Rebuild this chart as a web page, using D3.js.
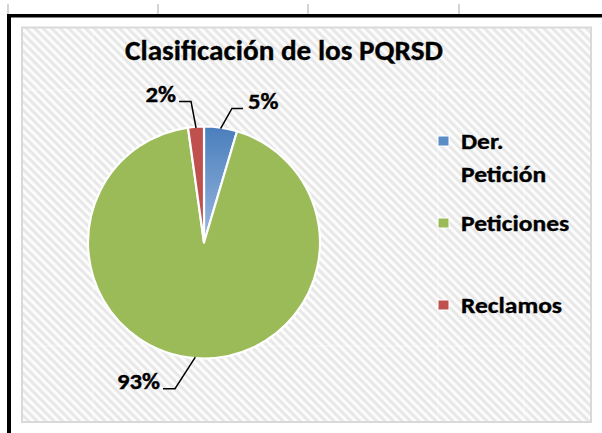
<!DOCTYPE html>
<html><head><meta charset="utf-8">
<script src="https://cdn.jsdelivr.net/npm/d3@7"></script>
<style>
html,body{margin:0;padding:0;background:#fff;}
svg{display:block;}
text{font-family:Carlito, Calibri, Lato, "DejaVu Sans", sans-serif;font-weight:bold;fill:#000;stroke:#000;stroke-width:0.35px;}
</style></head>
<body>
<script>
// ---- data ----
const categories = ["Der. Petición", "Peticiones", "Reclamos"];
const values = [4.6, 93.2, 2.2];
const legendLines = [["Der.", "Petición"], ["Peticiones"], ["Reclamos"]];
const title = "Clasificación de los PQRSD";

// ---- layout ----
const W = 602, H = 433;
const cx = 204, cy = 242.5, R = 116;
const colors = ["#4F81BD", "#9BBB59", "#C0504D"];
// elbow position of each leader line (angle nudge in degrees, radius)
const elbow = [{da: 3.5, r: 137}, {da: 6.9, r: 149}, {da: -1.3, r: 141.6}];

const svg = d3.select("body").append("svg").attr("width", W).attr("height", H);
const defs = svg.append("defs");

const pat = defs.append("pattern").attr("id", "hatch").attr("patternUnits", "userSpaceOnUse")
  .attr("width", 6).attr("height", 6).attr("patternTransform", "rotate(45)");
pat.append("rect").attr("width", 6).attr("height", 6).attr("fill", "#fcfcfc");
pat.append("rect").attr("width", 6).attr("height", 3).attr("fill", "#e8e8e8");

const bg = defs.append("linearGradient").attr("id", "blueGrad").attr("gradientUnits", "userSpaceOnUse")
  .attr("x1", 0).attr("y1", -R).attr("x2", 0).attr("y2", 0);
bg.append("stop").attr("offset", "0%").attr("stop-color", "#4a7ebc");
bg.append("stop").attr("offset", "100%").attr("stop-color", "#9bb9e0");

// spreadsheet gridline stubs
[8, 158, 308, 459].forEach(x => svg.append("line").attr("x1", x).attr("x2", x).attr("y1", 4).attr("y2", 14)
  .attr("stroke", "#d4d4d4").attr("stroke-width", 2));

// chart area
svg.append("rect").attr("x", 22).attr("y", 27.5).attr("width", 569).attr("height", 394.5)
  .attr("fill", "url(#hatch)").attr("stroke", "#d9d9d9").attr("stroke-width", 2);
// faint cell lines showing through
const gl = svg.append("g").attr("stroke", "#ffffff").attr("stroke-opacity", 0.5).attr("stroke-width", 1);
[93, 438, 524].forEach(x => gl.append("line").attr("x1", x).attr("x2", x).attr("y1", 29).attr("y2", 421));
[90, 346].forEach(y => gl.append("line").attr("x1", 23).attr("x2", 590).attr("y1", y).attr("y2", y));

// black sheet borders
svg.append("rect").attr("x", 7).attr("y", 14).attr("width", W - 7).attr("height", 3.5).attr("fill", "#000");
svg.append("rect").attr("x", 7).attr("y", 14).attr("width", 4).attr("height", H - 14).attr("fill", "#000");

// title
svg.append("text").attr("x", 284).attr("y", 59.5).attr("text-anchor", "middle")
  .attr("font-size", 28.5).attr("textLength", 318).attr("lengthAdjust", "spacingAndGlyphs").text(title);

// pie
const total = d3.sum(values);
const pie = d3.pie().sort(null).value(d => d)(values);
const arc = d3.arc().innerRadius(0).outerRadius(R);
const g = svg.append("g").attr("transform", `translate(${cx},${cy})`);
g.selectAll("path").data(pie).join("path")
  .attr("d", arc)
  .attr("fill", (d, i) => i === 0 ? "url(#blueGrad)" : colors[i])
  .attr("stroke", "#fff").attr("stroke-width", 2.2).attr("stroke-linejoin", "round");

const fmt = d3.format(".0%");
const polar = (a, r) => [r * Math.sin(a), -r * Math.cos(a)];
pie.forEach((d, i) => {
  const mid = (d.startAngle + d.endAngle) / 2;
  const p0 = polar(mid, R - 1);
  const e = polar(mid + elbow[i].da * Math.PI / 180, elbow[i].r);
  const right = Math.sin(mid + elbow[i].da * Math.PI / 180) > 0;
  const p2 = [e[0] + (right ? 11 : -12), e[1]];
  g.append("polyline").attr("points", [p0, e, p2].map(p => p.join(",")).join(" "))
    .attr("fill", "none").attr("stroke", "#000").attr("stroke-width", 1.5);
  const t = g.append("text").attr("x", p2[0] + (right ? 5 : -3)).attr("y", p2[1] + 0.5)
    .attr("text-anchor", right ? "start" : "end").attr("font-size", 21.5)
    .text(fmt(d.value / total));
  const w = t.node().getComputedTextLength();
  t.attr("textLength", w * 1.15).attr("lengthAdjust", "spacingAndGlyphs");
});

// legend
const legendY = [[149, 182], [231], [313]];
const lg = svg.append("g");
categories.forEach((c, i) => {
  lg.append("rect").attr("x", 438).attr("y", legendY[i][0] - 13).attr("width", 11).attr("height", 10)
    .attr("fill", i === 0 ? "#5b8cc6" : colors[i]).attr("stroke", "#fff").attr("stroke-width", 1);
  legendLines[i].forEach((t, j) => {
    const tx = lg.append("text").attr("x", 461).attr("y", legendY[i][j]).attr("font-size", 22).text(t);
    const w = tx.node().getComputedTextLength();
    tx.attr("textLength", w * 1.16).attr("lengthAdjust", "spacingAndGlyphs");
  });
});
</script>
</body></html>
